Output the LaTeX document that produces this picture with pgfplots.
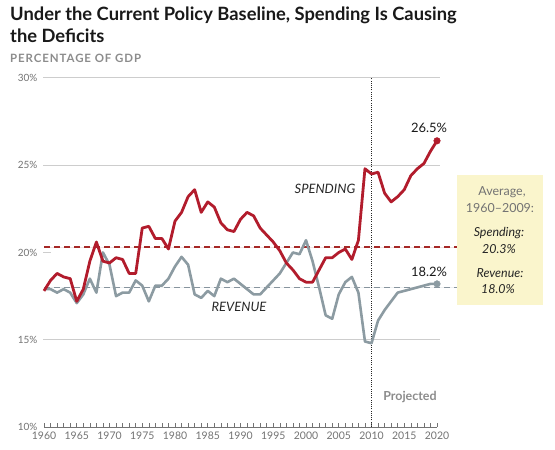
\documentclass[border=0pt]{standalone}
\usepackage{pgfplots}
\pgfplotsset{compat=1.18}
\usepackage{fontspec}
\setmainfont{Lato}
\usetikzlibrary{arrows.meta}
\definecolor{spend}{RGB}{178,28,44}
\definecolor{rev}{RGB}{140,155,162}
\definecolor{spendavg}{RGB}{165,40,38}
\definecolor{revavg}{RGB}{135,148,158}
\definecolor{gridc}{RGB}{205,205,205}
\definecolor{tickc}{RGB}{115,115,115}
\definecolor{boxc}{RGB}{250,245,204}
\definecolor{titlec}{RGB}{25,25,25}
\definecolor{subc}{RGB}{140,140,140}

\pgfplotstableread{
year val
1960 17.8
1961 18.4
1962 18.8
1963 18.6
1964 18.5
1965 17.2
1966 17.9
1967 19.5
1968 20.6
1969 19.5
1970 19.4
1971 19.7
1972 19.6
1973 18.8
1974 18.8
1975 21.4
1976 21.5
1977 20.8
1978 20.8
1979 20.2
1980 21.8
1981 22.3
1982 23.2
1983 23.6
1984 22.3
1985 22.9
1986 22.6
1987 21.7
1988 21.3
1989 21.2
1990 21.9
1991 22.3
1992 22.1
1993 21.4
1994 21.0
1995 20.6
1996 20.1
1997 19.4
1998 19.0
1999 18.5
2000 18.3
2001 18.3
2002 19.0
2003 19.7
2004 19.7
2005 20.0
2006 20.2
2007 19.6
2008 20.7
2009 24.8
2010 24.5
2011 24.6
2012 23.4
2013 22.9
2014 23.2
2015 23.6
2016 24.4
2017 24.8
2018 25.1
2019 25.8
2020 26.4
}\spending

\pgfplotstableread{
year val
1960 17.9
1961 17.9
1962 17.7
1963 17.9
1964 17.7
1965 17.1
1966 17.6
1967 18.5
1968 17.7
1969 20.0
1970 19.3
1971 17.5
1972 17.7
1973 17.7
1974 18.4
1975 18.1
1976 17.2
1977 18.1
1978 18.1
1979 18.5
1980 19.2
1981 19.75
1982 19.3
1983 17.6
1984 17.4
1985 17.8
1986 17.5
1987 18.5
1988 18.3
1989 18.5
1990 18.2
1991 17.9
1992 17.6
1993 17.6
1994 18.0
1995 18.4
1996 18.8
1997 19.4
1998 20.0
1999 19.9
2000 20.7
2001 19.5
2002 18.0
2003 16.4
2004 16.2
2005 17.6
2006 18.3
2007 18.6
2008 17.7
2009 14.9
2010 14.8
2011 16.1
2012 16.7
2013 17.2
2014 17.7
2015 17.8
2016 17.9
2017 18.0
2018 18.1
2019 18.2
2020 18.2
}\revenue

\begin{document}
\begin{tikzpicture}[x=1bp,y=1bp]
\path[use as bounding box, fill=white] (0,0) rectangle (555,450);
\begin{axis}[
  at={(44bp,23bp)}, anchor=south west,
  scale only axis, width=393bp, height=349bp,
  xmin=1960, xmax=2020, ymin=10, ymax=30,
  clip=false,
  axis x line*=bottom, axis y line*=left,
  x axis line style={draw=tickc, line width=0.7bp},
  y axis line style={draw=none},
  xtick={1960,1965,...,2020},
  xticklabels={1960,1965,1970,1975,1980,1985,1990,1995,2000,2005,2010,2015,2020},
  minor x tick num=4,
  tick align=inside,
  major tick length=3.5bp, minor tick length=3.5bp,
  x tick style={draw=tickc, line width=0.6bp},
  ytick={10,15,20,25,30},
  yticklabels={10\%,15\%,20\%,25\%,30\%},
  y tick style={draw=none},
  xticklabel style={font=\fontsize{10.5}{12}\selectfont, text=tickc, yshift=-1bp},
  yticklabel style={font=\fontsize{10}{12}\selectfont, text=tickc, xshift=-3bp},
]
% gridlines
\draw[gridc, line width=1bp] (axis cs:1959.85,30) -- (axis cs:2020.45,30);
\draw[gridc, line width=1bp] (axis cs:1959.85,25) -- (axis cs:2020.45,25);
\draw[gridc, line width=1bp] (axis cs:1959.85,15) -- (axis cs:2020.45,15);
\draw[gridc, line width=1bp] (axis cs:1959.85,20) -- (axis cs:1961,20);
% projected divider
\draw[black!85, line width=1.3bp, dash pattern=on 1bp off 1.2bp] (axis cs:2010,10) -- (axis cs:2010,30);
% averages
\addplot[draw=spendavg, fill=spendavg, line width=1.6bp, dash pattern=on 6bp off 4bp, -{Latex[reversed,length=4.5bp,width=5bp]}] coordinates {(1960,20.3) (2025.3,20.3)};
\addplot[draw=revavg, fill=revavg, line width=1.3bp, dash pattern=on 6bp off 4bp, -{Latex[reversed,length=4.5bp,width=5bp]}] coordinates {(1960,18.0) (2025.3,18.0)};
% series
\addplot[draw=rev, line width=2.6bp, line join=round] table[x=year,y=val] {\revenue};
\addplot[draw=spend, line width=2.8bp, line join=round] table[x=year,y=val] {\spending};
\addplot[only marks, mark=*, mark size=3.3bp, rev] coordinates {(2020,18.2)};
\addplot[only marks, mark=*, mark size=3.3bp, spend] coordinates {(2020,26.4)};
\end{axis}
% titles
\node[anchor=base west, inner sep=0, text=titlec, font=\fontsize{18.4}{21}\selectfont\bfseries] at (10,429) {Under the Current Policy Baseline, Spending Is Causing};
\node[anchor=base west, inner sep=0, text=titlec, font=\fontsize{18.4}{21}\selectfont\bfseries] at (10,407) {the Deficits};
\node[anchor=base west, inner sep=0, text=subc, font=\fontsize{11.5}{13}\selectfont\bfseries\addfontfeatures{LetterSpace=8}] at (10,387) {PERCENTAGE OF GDP};
% labels
\node[text=black!85, font=\fontsize{13}{15}\selectfont\itshape] at (325,261) {SPENDING};
\node[text=black!85, font=\fontsize{13}{15}\selectfont\itshape] at (239,143) {REVENUE};
\node[text=black!90, font=\fontsize{13}{15}\selectfont] at (429,322) {26.5\%};
\node[text=black!90, font=\fontsize{13}{15}\selectfont] at (429,178) {18.2\%};
\node[text=subc, font=\fontsize{12.5}{14}\selectfont\bfseries] at (410,53) {Projected};
% average box
\fill[boxc] (457,145) rectangle (543,275);
\node[text=black!55, font=\fontsize{12.5}{14}\selectfont] at (502,258) {Average,};
\node[text=black!55, font=\fontsize{12.5}{14}\selectfont] at (500,242) {1960--2009:};
\node[text=black!85, font=\fontsize{12.5}{14}\selectfont\itshape] at (499,217) {Spending:};
\node[text=black!85, font=\fontsize{12.5}{14}\selectfont\itshape] at (499,201) {20.3\%};
\node[text=black!85, font=\fontsize{12.5}{14}\selectfont\itshape] at (500,177) {Revenue:};
\node[text=black!85, font=\fontsize{12.5}{14}\selectfont\itshape] at (498,161) {18.0\%};
\end{tikzpicture}
\end{document}
